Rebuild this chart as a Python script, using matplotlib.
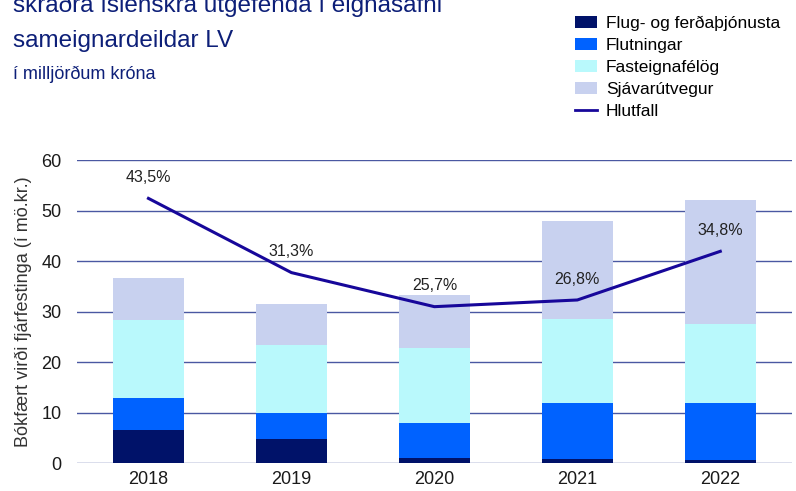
import matplotlib.pyplot as plt
import numpy as np
from matplotlib.patches import Patch
from matplotlib.lines import Line2D

# Bókfært virði eftir atvinnugreinum, milljarðar króna
years = ["2018", "2019", "2020", "2021", "2022"]
flug = [6.5, 4.7, 1.0, 0.8, 0.6]
flutningar = [6.4, 5.2, 6.9, 11.1, 11.3]
fasteignir = [15.4, 13.5, 14.9, 16.6, 15.6]
sjavarutvegur = [8.3, 8.1, 10.5, 19.4, 24.6]
hlutfall = [43.5, 31.3, 25.7, 26.8, 34.8]  # %

series = [flug, flutningar, fasteignir, sjavarutvegur]
names = ["Flug- og ferðaþjónusta", "Flutningar", "Fasteignafélög", "Sjávarútvegur"]
colors = ["#001269", "#0062ff", "#b9f9fc", "#c8d1ef"]
navy = "#0d1f78"
line_col = "#17079a"
grid_col = "#4a58a2"

plt.rcParams["font.family"] = ["Liberation Sans", "DejaVu Sans"]

fig = plt.figure(figsize=(7.96, 4.91), dpi=100)
ax = fig.add_axes([0.0967, 0.057, 0.898, 0.617])

x = np.arange(len(years))
bottom = np.zeros(len(years))
for vals, col in zip(series, colors):
    ax.bar(x, vals, width=0.5, bottom=bottom, color=col, zorder=3)
    bottom += np.array(vals)

ax.set_xlim(-0.5, len(years) - 0.5)
ax.set_ylim(0, 60)
ax.set_yticks(range(0, 61, 10))
ax.set_xticks(x)
ax.set_xticklabels(years)
ax.grid(axis="y", color=grid_col, linewidth=1.0, zorder=0)
ax.tick_params(axis="both", length=0, labelsize=13, colors="#1a1a1a")
ax.tick_params(axis="y", pad=11)
ax.tick_params(axis="x", pad=6)
for s in ax.spines.values():
    s.set_visible(False)
ax.set_ylabel("Bókfært virði fjárfestinga (í mö.kr.)", fontsize=13,
              color="#333333", labelpad=7)

# hlutfall á földum hægri ás
ax2 = ax.twinx()
ax2.set_ylim(0, 49.8)
ax2.plot(x, hlutfall, color=line_col, linewidth=2.2, zorder=5)
for xi, h in zip(x, hlutfall):
    ax2.annotate(f"{h:.1f}%".replace(".", ","), (xi, h), xytext=(0, 15),
                 textcoords="offset points", ha="center", va="center",
                 fontsize=11.5, color="#222222")
ax2.axis("off")

# fyrirsögn
fig.text(13 / 796, 1 - 12 / 491, "skráðra íslenskra útgefenda í eignasafni",
         fontsize=17.5, color=navy, va="baseline", ha="left")
fig.text(13 / 796, 1 - 47 / 491, "sameignardeildar LV",
         fontsize=17.5, color=navy, va="baseline", ha="left")
fig.text(13 / 796, 1 - 79 / 491, "í milljörðum króna",
         fontsize=13, color=navy, va="baseline", ha="left")

handles = [Patch(facecolor=c, edgecolor="none") for c in colors]
handles.append(Line2D([0], [0], color=line_col, linewidth=2))
fig.legend(handles, names + ["Hlutfall"], loc="upper left",
           bbox_to_anchor=(566 / 796, 1 - 7 / 491), frameon=False,
           fontsize=12.5, handlelength=1.3, handleheight=0.7,
           handletextpad=0.5, labelspacing=0.4, borderpad=0)

fig.savefig("out.png", dpi=100)
